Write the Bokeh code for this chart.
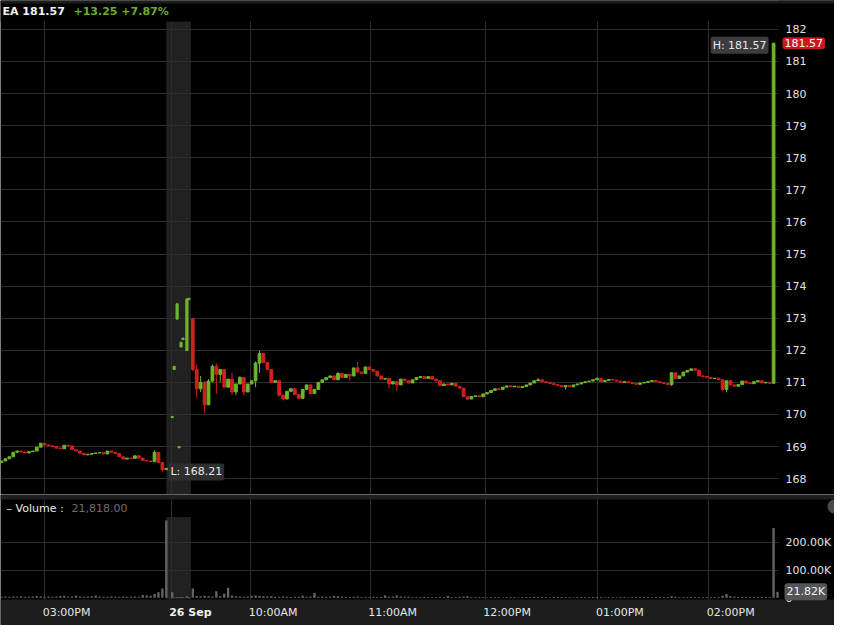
from bokeh.plotting import figure
from bokeh.layouts import column
from bokeh.models import Range1d, FixedTicker, Label, ColumnDataSource
from bokeh.embed import file_html
from bokeh.resources import INLINE
from bokeh.core.properties import value

# ---------------- data ----------------
symbol = "EA"
last_price = 181.57
change = 13.25
change_pct = 7.87
last_volume = 21818.00
session_high = 181.57
session_low = 168.21

# previous day (25 Sep), 2-minute bars from ~02:37PM to the close
prev_first_slot = 0.5
prev_open0 = 168.50
prev_close = [168.55, 168.62, 168.68, 168.82, 168.86, 168.83, 168.80, 168.84, 168.86, 168.98,
              169.10, 169.05, 169.02, 169.00, 168.95, 168.93, 169.04, 169.02, 168.90, 168.86,
              168.79, 168.74, 168.76, 168.78, 168.80, 168.81, 168.77, 168.86, 168.82, 168.78,
              168.68, 168.61, 168.64, 168.63, 168.71, 168.64, 168.57, 168.55, 168.53, 168.82,
              168.50, 168.28]
prev_hi = {39: 168.88}
prev_lo = {41: 168.21}
prev_vol_k = [4, 5, 4, 5, 4, 6, 4, 4, 5, 7,
              5, 4, 5, 4, 5, 7, 8, 4, 5, 9,
              5, 4, 5, 6, 9, 5, 4, 4, 5, 4,
              4, 5, 4, 4, 5, 4, 10, 9, 8, 14,
              20, 34]

# closing auction bar
close_slot = 84.5
close_ohlc = (168.28, 168.32, 168.33, 168.27)
close_vol_k = 282

# extended hours trades (shaded zone)
ext_slot = [87.5, 88.5, 90, 91, 92, 93, 95, 96]
ext_open = [169.90, 171.40, 172.97, 168.96, 172.10, 172.33, 171.99, 173.58]
ext_close = [169.94, 171.50, 173.45, 169.00, 172.25, 172.38, 173.60, 173.62]
ext_vol_k = [20, 2, 3, 2, 3, 2, 6, 3]
ext_zone = (84.5, 97.0)

# today (26 Sep), 2-minute bars from 09:30AM
today_first_slot = 98
today_open0 = 172.98
today_close = [171.40, 170.80, 171.00, 170.30, 171.04, 171.50, 171.25, 171.40, 170.85, 171.10,
               170.70, 170.95, 171.15, 170.70, 170.95, 171.05, 171.60, 171.90, 171.62, 171.40,
               171.00, 171.05, 170.60, 170.48, 170.72, 170.80, 170.62, 170.50, 170.78, 170.92,
               170.65, 170.78, 171.00, 171.08, 171.15, 171.20, 171.08, 171.28, 171.15, 171.25,
               171.20, 171.45, 171.32, 171.28, 171.48, 171.40, 171.35, 171.20, 171.10, 171.12,
               170.95, 171.02, 170.92, 171.10, 171.05, 170.98, 171.08, 171.15, 171.18, 171.12,
               171.18, 171.10, 171.05, 170.90, 170.95, 170.92, 170.97, 170.88, 170.82, 170.55,
               170.48, 170.56, 170.58, 170.55, 170.64, 170.68, 170.75, 170.80, 170.78, 170.85,
               170.89, 170.86, 170.88, 170.84, 170.87, 170.92, 170.98, 171.05, 171.08, 171.02,
               171.00, 170.96, 170.93, 170.90, 170.86, 170.90, 170.86, 170.92, 170.95, 170.99,
               171.02, 171.04, 171.08, 171.12, 171.02, 171.06, 171.09, 171.07, 171.04, 171.00,
               171.02, 170.99, 170.96, 170.94, 170.98, 171.00, 171.03, 171.06, 171.02, 170.99,
               170.96, 170.93, 171.30, 171.12, 171.20, 171.32, 171.37, 171.42, 171.38, 171.20,
               171.18, 171.15, 171.12, 171.13, 171.08, 170.78, 171.05, 170.92, 170.88, 170.93,
               171.04, 170.98, 170.96, 171.02, 171.05, 170.98, 171.00, 170.97, 181.57]
today_hi = {0: 173.00, 1: 171.56, 2: 171.20, 3: 171.04, 4: 171.10, 5: 171.56, 6: 171.59,
            8: 171.40, 10: 171.30, 12: 171.20, 16: 171.65, 17: 172.00, 18: 171.85,
            30: 170.88, 37: 171.32, 42: 171.65, 88: 171.14, 103: 171.15, 122: 171.32, 128: 171.45}
today_lo = {0: 171.35, 1: 170.52, 2: 170.70, 3: 170.04, 4: 170.30, 5: 171.00, 6: 170.64,
            7: 171.00, 10: 170.60, 11: 170.60, 13: 170.60, 16: 170.85, 17: 171.30, 22: 170.55,
            23: 170.43, 28: 170.50, 40: 171.05, 50: 170.82, 52: 170.72, 70: 170.45, 95: 170.77,
            122: 170.89, 135: 170.72, 136: 170.69}
today_vol_k = [34, 7, 6, 8, 6, 5, 24, 6, 15, 37,
               9, 6, 5, 4, 5, 8, 9, 7, 6, 5,
               6, 4, 4, 5, 4, 3, 4, 4, 8, 4,
               5, 18, 4, 5, 4, 4, 7, 6, 4, 3,
               3, 4, 5, 3, 3, 3, 4, 3, 4, 9,
               4, 5, 9, 5, 4, 4, 3, 3, 3, 4,
               3, 3, 3, 4, 3, 7, 3, 3, 4, 5,
               6, 3, 3, 3, 3, 2, 3, 3, 3, 2,
               3, 3, 3, 2, 3, 3, 3, 4, 3, 3,
               3, 2, 3, 3, 3, 3, 3, 2, 3, 3,
               3, 3, 3, 3, 3, 2, 3, 3, 2, 3,
               3, 2, 3, 3, 3, 3, 3, 2, 3, 3,
               3, 3, 6, 4, 3, 3, 3, 3, 3, 3,
               3, 3, 3, 3, 3, 8, 14, 6, 4, 3,
               3, 3, 3, 3, 3, 3, 3, 3, 254]
current_slot = 396
current_vol_k = 21.818

tick_slot = [22.5, 87, 127.5, 188.5, 247, 304.5, 361]
tick_label = ["03:00PM", "26 Sep", "10:00AM", "11:00AM", "12:00PM", "01:00PM", "02:00PM"]
date_label = "26 Sep"

price_ticks = list(range(168, 183))
vol_ticks = [0, 100000, 200000]
vol_tick_labels = ["0", "100.00K", "200.00K"]

# ---------------- layout / styling ----------------
GREEN = "#6db52c"
RED = "#d21f1f"
GRID = "#2d2d2d"
BAND = "#212121"
VOLC = "#646464"
FONT = "DejaVu Sans"
W = 834                 # total width
AXIS_W = 56             # right axis strip
PLOT_W = W - AXIS_W     # data area width
X_END = 396.5           # slots across the data area
SX = PLOT_W / X_END     # px per slot
X_FULL = W / SX

HDR_H, PRICE_H = 21, 473
Y0, Y1 = 167.505, 182.246
PY = PRICE_H / (Y1 - Y0)
YTOP = Y1 + HDR_H / PY

SEP_H, VOL_H, XB_H = 5, 100, 26
VY0, VY1 = -6000, 358000
VYP = VOL_H / (VY1 - VY0)
VTOP = VY1 + SEP_H / VYP
VBOT = VY0 - XB_H / VYP


def candles(first_slot, open0, closes, hi_ext, lo_ext):
    xs, o, c, h, l = [], [], [], [], []
    prev = open0
    for i, cl in enumerate(closes):
        xs.append(first_slot + 2 * i)
        o.append(prev)
        c.append(cl)
        h.append(max(prev, cl, hi_ext.get(i, cl)))
        l.append(min(prev, cl, lo_ext.get(i, cl)))
        prev = cl
    return xs, o, c, h, l


px, po, pc, ph, pl = candles(prev_first_slot, prev_open0, prev_close, prev_hi, prev_lo)
tx, to, tc, th, tl = candles(today_first_slot, today_open0, today_close, today_hi, today_lo)

X = px + [close_slot] + ext_slot + tx
O = po + [close_ohlc[0]] + ext_open + to
C = pc + [close_ohlc[1]] + ext_close + tc
H = ph + [close_ohlc[2]] + [max(a, b) for a, b in zip(ext_open, ext_close)] + th
L = pl + [close_ohlc[3]] + [min(a, b) for a, b in zip(ext_open, ext_close)] + tl
Wd = [1.4] * (len(px) + 1) + [1.1] * len(ext_slot) + [1.4] * len(tx)
COL = [GREEN if c >= o else RED for o, c in zip(O, C)]
src = ColumnDataSource(dict(x=X, top=[max(a, b) for a, b in zip(O, C)],
                            bottom=[min(a, b) for a, b in zip(O, C)],
                            high=H, low=L, color=COL, w=Wd))

VX = px + [close_slot] + ext_slot + tx + [current_slot]
VV = [k * 1000 for k in prev_vol_k + [close_vol_k] + ext_vol_k + today_vol_k + [current_vol_k]]
vsrc = ColumnDataSource(dict(x=VX, top=VV))

xr = Range1d(0, X_FULL)


def base_fig(height, yr):
    f = figure(width=W, height=height, x_range=xr, y_range=yr, toolbar_location=None,
               output_backend="svg", background_fill_color="black", border_fill_color="black",
               min_border=0, min_border_left=0, min_border_right=0, min_border_top=0,
               min_border_bottom=0, outline_line_color=None)
    f.xaxis.visible = False
    f.yaxis.visible = False
    f.xaxis.ticker = FixedTicker(ticks=tick_slot)
    f.xgrid.ticker = FixedTicker(ticks=tick_slot)
    f.xgrid.grid_line_color = GRID
    f.ygrid.grid_line_color = GRID
    return f


TXT = dict(text_font=value(FONT), text_font_size="11px", text_baseline="middle")

# ---------------- price panel (with header) ----------------
p = base_fig(HDR_H + PRICE_H, Range1d(Y0, YTOP))
p.ygrid.ticker = FixedTicker(ticks=price_ticks)

p.quad(left=[ext_zone[0]], right=[ext_zone[1]], bottom=[Y0], top=[Y1],
       fill_color=BAND, line_color=None, level="image")
# axis strip and header strip (hide grid there)
p.quad(left=[X_END], right=[X_FULL], bottom=[Y0], top=[YTOP], fill_color="black", line_color=None)
p.quad(left=[0], right=[X_FULL], bottom=[Y1], top=[YTOP], fill_color="black", line_color=None)
p.quad(left=[0], right=[X_FULL], bottom=[YTOP - 3 / PY], top=[YTOP], fill_color="#1c1c1c",
       line_color=None)

p.segment(x0="x", y0="high", x1="x", y1="low", color="color", line_width=1, source=src)
p.vbar(x="x", width="w", top="top", bottom="bottom", fill_color="color", line_color="color",
       line_width=1, source=src)

# price axis labels
p.text(x=[X_END] * len(price_ticks), y=price_ticks, text=[str(t) for t in price_ticks],
       x_offset=7, text_color="#e2e2e2", text_align="left", **TXT)

# header
hy = YTOP - 10.5 / PY
p.text(x=[2 / SX], y=[hy], text=[f"{symbol} {last_price:.2f}"], text_color="#f2f2f2",
       text_font_style="bold", text_font=value(FONT), text_font_size="11px", text_baseline="middle")
p.text(x=[73 / SX], y=[hy], text=[f"+{change:.2f} +{change_pct:.2f}%"], text_color="#6aaf2a",
       text_font_style="bold", text_font=value(FONT), text_font_size="11px", text_baseline="middle")

p.add_layout(Label(x=X_END, y=last_price, text=f"{last_price:.2f}", x_offset=4,
                   text_align="left", text_baseline="middle", text_color="white",
                   text_font=FONT, text_font_size="11px", background_fill_color="#c8191e",
                   padding=2, border_radius=3))
p.add_layout(Label(x=tx[-1], y=session_high, text=f"H: {session_high:.2f}", x_offset=-5,
                   y_offset=-2, text_align="right", text_baseline="middle", text_color="#e8e8e8",
                   text_font=FONT, text_font_size="11px", background_fill_color="#3a3c3e",
                   padding=2, border_radius=2))
low_idx = min(range(len(pl)), key=lambda i: pl[i])
p.add_layout(Label(x=px[low_idx], y=session_low, text=f"L: {session_low:.2f}", x_offset=6,
                   text_align="left", text_baseline="middle", text_color="#e8e8e8",
                   text_font=FONT, text_font_size="11px", background_fill_color="#2e2e2e",
                   padding=2, border_radius=2))

# ---------------- volume panel (with separator and time band) ----------------
v = base_fig(SEP_H + VOL_H + XB_H, Range1d(VBOT, VTOP))
v.ygrid.ticker = FixedTicker(ticks=vol_ticks[1:])

v.quad(left=[ext_zone[0]], right=[ext_zone[1]], bottom=[VY0], top=[294000],
       fill_color=BAND, line_color=None, level="image")
v.quad(left=[X_END], right=[X_FULL], bottom=[VY0], top=[VY1], fill_color="black", line_color=None)
v.quad(left=[0], right=[X_FULL], bottom=[VY1], top=[VTOP], fill_color="#1f1f1f", line_color=None)
v.quad(left=[0], right=[X_FULL], bottom=[VBOT], top=[VY0], fill_color="#1d1d1d", line_color=None)

v.vbar(x="x", width=1.2, top="top", bottom=0, fill_color=VOLC, line_color=None, source=vsrc)

v.text(x=[X_END] * len(vol_ticks), y=vol_ticks, text=vol_tick_labels, x_offset=7,
       text_color="#e2e2e2", text_align="left", **TXT)

vt_y = VY1 - 8.8 / VYP
v.text(x=[0], y=[vt_y], text=["–  Volume :"], x_offset=6, text_color="#eeeeee", **TXT)
v.text(x=[0], y=[vt_y], text=[f"{last_volume:,.2f}"], x_offset=71, text_color="#6e6e6e", **TXT)

# close button (partly cut at the right edge)
v.scatter(x=[X_FULL], y=[VY1 - 7 / VYP], marker="circle", size=14, fill_color="#4a4a4a",
          line_color=None)

v.add_layout(Label(x=X_END, y=current_vol_k * 1000, text=f"{current_vol_k:.2f}K", x_offset=6,
                   text_align="left", text_baseline="middle", text_color="#f4f4f4",
                   text_font=FONT, text_font_size="11px", background_fill_color="#555555",
                   padding=2, border_radius=3))

# time labels
ty = VY0 - 12.7 / VYP
reg = [(s, t) for s, t in zip(tick_slot, tick_label) if t != date_label]
bold = [(s, t) for s, t in zip(tick_slot, tick_label) if t == date_label]
v.text(x=[s for s, _ in reg], y=[ty] * len(reg), text=[t for _, t in reg], x_offset=-2,
       text_color="#e6e6e6", text_align="left", **TXT)
v.text(x=[s for s, _ in bold], y=[ty] * len(bold), text=[t for _, t in bold], x_offset=-2,
       text_color="#f0f0f0", text_font_style="bold", text_align="left", **TXT)

page = column(p, v, spacing=0)
open("out.html", "w").write(file_html(page, INLINE))
